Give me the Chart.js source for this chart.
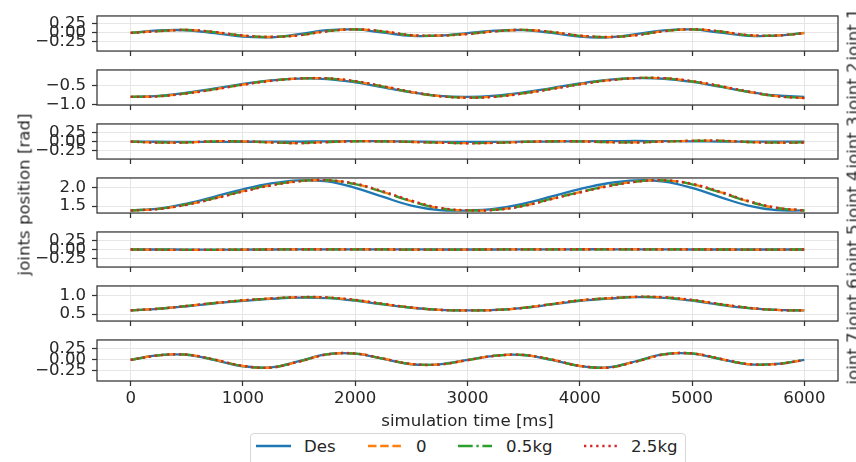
<!DOCTYPE html>
<html>
<head>
<meta charset="utf-8">
<script src="https://cdn.jsdelivr.net/npm/chart.js@4.4.1/dist/chart.umd.min.js"></script>
<style>
  body{margin:0;width:856px;height:462px;overflow:hidden;position:relative;background:#fff;font-family:"DejaVu Sans",sans-serif;color:#262626;}
  canvas{position:absolute;left:0;}
  .vlabel{position:absolute;height:17px;line-height:17px;font-size:16.6px;text-align:center;transform:rotate(-90deg);white-space:nowrap;}
  .legend{position:absolute;left:250px;top:433px;width:434px;height:36px;border:1px solid #d6d6d6;border-radius:4px;background:#fff;}
  .legend span{position:absolute;top:5px;font-size:16.6px;line-height:16px;white-space:nowrap;}
  .legend svg{position:absolute;left:0;top:0;}
</style>
</head>
<body>
<div class="legend" id="legend"></div>
<script>
// sample times, ms
const timeMs = [0,250,500,750,1000,1250,1500,1750,2000,2250,2500,2750,3000,3250,3500,3750,4000,4250,4500,4750,5000,5250,5500,5750,6000];
const xTicks = [0,1000,2000,3000,4000,5000,6000];

const seriesNames = ["Des","0","0.5kg","2.5kg"];
const jointNames = ["joint 1","joint 2","joint 3","joint 4","joint 5","joint 6","joint 7"];

// joint 1
const j1Des   = [0.000,0.069,0.075,-0.006,-0.101,-0.119,-0.032,0.076,0.097,0.009,-0.081,-0.075,-0.002,0.066,0.078,0.002,-0.101,-0.121,-0.035,0.074,0.098,0.010,-0.080,-0.074,0.000];
const j1Zero  = [0.000,0.053,0.082,0.022,-0.075,-0.112,-0.062,0.051,0.100,0.040,-0.064,-0.072,-0.025,0.048,0.083,0.024,-0.077,-0.113,-0.060,0.052,0.100,0.041,-0.063,-0.071,-0.005];
const j1Half  = [0.000,0.054,0.082,0.021,-0.076,-0.112,-0.061,0.052,0.100,0.039,-0.065,-0.072,-0.024,0.049,0.083,0.023,-0.078,-0.113,-0.059,0.053,0.100,0.040,-0.064,-0.071,-0.004];
const j1Heavy = [0.000,0.050,0.083,0.026,-0.071,-0.110,-0.066,0.046,0.100,0.045,-0.060,-0.073,-0.030,0.044,0.084,0.028,-0.073,-0.112,-0.064,0.048,0.101,0.046,-0.059,-0.072,-0.008];
// joint 2
const j2Des   = [-0.800,-0.770,-0.687,-0.571,-0.450,-0.353,-0.303,-0.318,-0.406,-0.540,-0.678,-0.774,-0.800,-0.765,-0.678,-0.559,-0.437,-0.341,-0.293,-0.308,-0.394,-0.524,-0.660,-0.762,-0.800];
const j2Zero  = [-0.800,-0.780,-0.702,-0.590,-0.465,-0.360,-0.300,-0.300,-0.380,-0.520,-0.670,-0.780,-0.820,-0.790,-0.700,-0.580,-0.455,-0.350,-0.290,-0.295,-0.380,-0.510,-0.660,-0.780,-0.830];
const j2Half  = [-0.800,-0.779,-0.700,-0.588,-0.463,-0.359,-0.300,-0.301,-0.382,-0.522,-0.671,-0.780,-0.819,-0.789,-0.699,-0.578,-0.453,-0.349,-0.290,-0.296,-0.382,-0.512,-0.661,-0.779,-0.828];
const j2Heavy = [-0.800,-0.784,-0.708,-0.597,-0.472,-0.366,-0.302,-0.296,-0.372,-0.510,-0.662,-0.776,-0.822,-0.795,-0.707,-0.588,-0.462,-0.356,-0.292,-0.292,-0.372,-0.502,-0.652,-0.776,-0.832];
// joint 3
const j3Des   = [0.000,-0.002,-0.004,-0.004,-0.002,-0.001,0.003,0.010,0.015,0.012,0.004,-0.003,-0.005,-0.004,-0.001,0.004,0.010,0.015,0.018,0.016,0.010,0.004,0.000,-0.001,0.000];
const j3Zero  = [0.000,-0.022,-0.020,0.012,0.006,-0.020,-0.038,-0.008,0.013,0.008,-0.008,-0.025,-0.040,-0.030,-0.005,0.012,0.008,-0.012,-0.020,0.008,0.022,0.025,-0.010,-0.025,-0.020];
const j3Half  = [0.000,-0.020,-0.019,0.011,0.006,-0.019,-0.036,-0.008,0.012,0.008,-0.007,-0.024,-0.038,-0.029,-0.005,0.011,0.008,-0.011,-0.019,0.008,0.021,0.024,-0.009,-0.024,-0.019];
const j3Heavy = [0.000,-0.024,-0.022,0.010,0.008,-0.018,-0.040,-0.012,0.012,0.010,-0.006,-0.026,-0.043,-0.033,-0.008,0.011,0.010,-0.010,-0.022,0.005,0.022,0.027,-0.008,-0.027,-0.022];
// joint 4
const j4Des   = [1.380,1.430,1.570,1.760,1.960,2.120,2.204,2.175,2.000,1.750,1.515,1.390,1.380,1.430,1.570,1.763,1.965,2.125,2.205,2.171,1.998,1.747,1.514,1.388,1.380];
const j4Zero  = [1.380,1.424,1.545,1.719,1.909,2.074,2.182,2.207,2.103,1.886,1.636,1.444,1.382,1.400,1.510,1.700,1.880,2.050,2.170,2.205,2.100,1.880,1.630,1.450,1.380];
const j4Half  = [1.380,1.425,1.547,1.721,1.911,2.076,2.184,2.207,2.100,1.882,1.632,1.442,1.381,1.401,1.512,1.702,1.882,2.052,2.172,2.205,2.097,1.876,1.627,1.448,1.380];
const j4Heavy = [1.380,1.420,1.537,1.708,1.897,2.064,2.176,2.208,2.116,1.902,1.652,1.455,1.386,1.396,1.502,1.690,1.870,2.040,2.163,2.206,2.112,1.895,1.645,1.458,1.382];
// joint 5
const j5Des   = [0.000,0.000,-0.001,-0.002,-0.001,0.000,0.002,0.004,0.005,0.004,0.002,0.000,0.000,0.000,0.002,0.004,0.006,0.006,0.004,0.002,0.000,0.000,0.000,0.000,0.000];
const j5Zero  = [0.000,-0.006,-0.010,-0.008,-0.004,0.002,0.006,0.005,0.004,0.001,-0.002,-0.003,-0.001,0.002,0.004,0.005,0.006,0.007,0.006,0.004,0.002,0.000,-0.001,-0.001,0.000];
const j5Half  = [0.000,-0.005,-0.009,-0.008,-0.004,0.002,0.005,0.005,0.004,0.001,-0.002,-0.003,-0.001,0.002,0.004,0.005,0.006,0.006,0.006,0.004,0.002,0.000,-0.001,-0.001,0.000];
const j5Heavy = [0.000,-0.007,-0.012,-0.010,-0.005,0.001,0.006,0.006,0.005,0.002,-0.002,-0.004,-0.002,0.002,0.004,0.006,0.007,0.008,0.007,0.005,0.002,0.000,-0.002,-0.002,0.000];
// joint 6
const j6Des   = [0.600,0.640,0.710,0.790,0.855,0.910,0.945,0.930,0.860,0.760,0.670,0.615,0.600,0.612,0.665,0.760,0.855,0.915,0.955,0.940,0.860,0.750,0.660,0.610,0.600];
const j6Zero  = [0.600,0.645,0.720,0.800,0.870,0.920,0.955,0.945,0.875,0.770,0.675,0.612,0.598,0.610,0.670,0.770,0.870,0.925,0.962,0.950,0.875,0.765,0.668,0.610,0.598];
const j6Half  = [0.600,0.644,0.718,0.799,0.868,0.919,0.954,0.944,0.874,0.769,0.674,0.612,0.598,0.610,0.669,0.769,0.868,0.924,0.961,0.949,0.874,0.764,0.667,0.610,0.598];
const j6Heavy = [0.600,0.643,0.717,0.799,0.870,0.922,0.958,0.950,0.882,0.776,0.678,0.614,0.597,0.608,0.667,0.768,0.870,0.927,0.965,0.955,0.882,0.770,0.671,0.611,0.597];
// joint 7
const j7Des   = [0.000,0.108,0.117,-0.003,-0.144,-0.169,-0.029,0.131,0.142,0.022,-0.098,-0.099,0.000,0.100,0.110,0.000,-0.140,-0.170,-0.030,0.130,0.145,0.020,-0.100,-0.090,0.000];
const j7Zero  = [0.000,0.105,0.120,0.003,-0.138,-0.172,-0.036,0.126,0.146,0.028,-0.094,-0.103,-0.004,0.096,0.113,0.006,-0.135,-0.173,-0.037,0.125,0.148,0.026,-0.096,-0.094,-0.002];
const j7Half  = [0.000,0.105,0.119,0.002,-0.139,-0.172,-0.035,0.127,0.146,0.027,-0.095,-0.102,-0.003,0.097,0.112,0.005,-0.136,-0.173,-0.036,0.126,0.148,0.025,-0.097,-0.093,-0.002];
const j7Heavy = [0.000,0.103,0.121,0.006,-0.135,-0.173,-0.040,0.123,0.148,0.031,-0.091,-0.105,-0.006,0.094,0.114,0.009,-0.132,-0.174,-0.041,0.122,0.149,0.029,-0.094,-0.096,-0.003];

const yTicks = [
  [-0.25,0,0.25],
  [-1.0,-0.5],
  [-0.25,0,0.25],
  [1.5,2.0],
  [-0.25,0,0.25],
  [0.5,1.0],
  [-0.25,0,0.25]
];
const yDigits = [2,1,2,1,2,1,2];
const yLims = [[-0.50,0.47],[-1.02,-0.07],[-0.47,0.48],[1.31,2.27],[-0.48,0.48],[0.31,1.26],[-0.48,0.455]];

const jointData = [
  [j1Des,j1Zero,j1Half,j1Heavy],
  [j2Des,j2Zero,j2Half,j2Heavy],
  [j3Des,j3Zero,j3Half,j3Heavy],
  [j4Des,j4Zero,j4Half,j4Heavy],
  [j5Des,j5Zero,j5Half,j5Heavy],
  [j6Des,j6Zero,j6Half,j6Heavy],
  [j7Des,j7Zero,j7Half,j7Heavy]
];

const colors = ["#1f77b4","#ff7f0e","#2ca02c","#d62728"];
const dashes = [[],[8.5,3.7],[14.7,3.7,2.3,3.7],[2.3,3.8]];
const LW = 2.3;

const TEXT = "#262626";
const EDGE = "#333333";
const GRID = "#e6e6e6";
const FS = 16.6;

Chart.defaults.font.family = "'DejaVu Sans'";
Chart.defaults.font.size = FS;
Chart.defaults.color = TEXT;

const panelTops = [12,66,120,174,228,282,336];
const PANEL_H = 45;
const PAD_TOP = 12;

// box round each panel, like the matplotlib spines
const frame = {
  id: "frame",
  afterDraw(chart){
    const {ctx, chartArea:a} = chart;
    ctx.save();
    ctx.strokeStyle = EDGE;
    ctx.lineWidth = 1.25;
    ctx.strokeRect(a.left, a.top, a.right-a.left, a.bottom-a.top);
    ctx.restore();
  }
};

function fmt(v, d){
  return (v < 0 ? "\u2212" : "") + Math.abs(v).toFixed(d);
}

function addVLabel(text, cx, cy, w){
  const d = document.createElement("div");
  d.className = "vlabel";
  d.textContent = text;
  d.style.width = w+"px";
  d.style.left = (cx-w/2)+"px";
  d.style.top = (cy-8.5)+"px";
  document.body.appendChild(d);
}

function makePanel(i){
  const last = i === jointData.length-1;
  const xH = last ? 51 : 10;
  const c = document.createElement("canvas");
  c.width = 856;
  c.height = PAD_TOP + PANEL_H + xH;
  c.style.top = (panelTops[i]-PAD_TOP)+"px";
  document.body.appendChild(c);

  const datasets = jointData[i].map((vals,k)=>({
    label: seriesNames[k],
    data: timeMs.map((t,n)=>({x:t,y:vals[n]})),
    borderColor: colors[k],
    borderDash: dashes[k],
    borderWidth: LW,
    pointRadius: 0,
    fill: false,
    tension: 0.4,
    order: 4-k
  }));

  new Chart(c,{
    type:"line",
    data:{datasets},
    options:{
      responsive:false, animation:false, devicePixelRatio:1,
      layout:{padding:{top:PAD_TOP,right:18,left:0,bottom:0}},
      plugins:{legend:{display:false},tooltip:{enabled:false}},
      scales:{
        x:{
          type:"linear", min:-300, max:6300,
          afterBuildTicks: sc => { sc.ticks = xTicks.map(v=>({value:v})); },
          afterFit: sc => { sc.height = xH; },
          ticks:{display:last, autoSkip:false, maxRotation:0, padding:3, color:TEXT, callback:v=>String(v)},
          title:{display:last, text:"simulation time [ms]", color:TEXT, padding:{top:0,bottom:0}},
          grid:{color:GRID, lineWidth:1, tickColor:EDGE, tickLength:5, tickWidth:1.25},
          border:{display:false}
        },
        y:{
          min:yLims[i][0], max:yLims[i][1],
          afterBuildTicks: sc => { sc.ticks = yTicks[i].map(v=>({value:v})); },
          afterFit: sc => { sc.width = 97; },
          ticks:{autoSkip:false, padding:6, color:TEXT, callback:v=>fmt(v,yDigits[i])},
          grid:{color:GRID, lineWidth:1, tickColor:EDGE, tickLength:5, tickWidth:1.25},
          border:{display:false}
        }
      }
    },
    plugins:[frame]
  });

  addVLabel(jointNames[i], 853, panelTops[i]+PANEL_H/2, 90);
}

jointData.forEach((_,i)=>makePanel(i));
addVLabel("joints position [rad]", 23.5, 194, 240);

// legend
const legendLineX = [[5,40],[117,151],[207,241],[333,367]];
const legendTextX = [53,165,255,380];
const lg = document.getElementById("legend");
let svg = '<svg width="434" height="36">';
seriesNames.forEach((n,k)=>{
  svg += `<line x1="${legendLineX[k][0]}" y1="12" x2="${legendLineX[k][1]}" y2="12" stroke="${colors[k]}" stroke-width="${LW}" stroke-dasharray="${dashes[k].join(" ") || "none"}"/>`;
});
svg += "</svg>";
lg.innerHTML = svg + seriesNames.map((n,k)=>`<span style="left:${legendTextX[k]}px">${n}</span>`).join("");
</script>
</body>
</html>
